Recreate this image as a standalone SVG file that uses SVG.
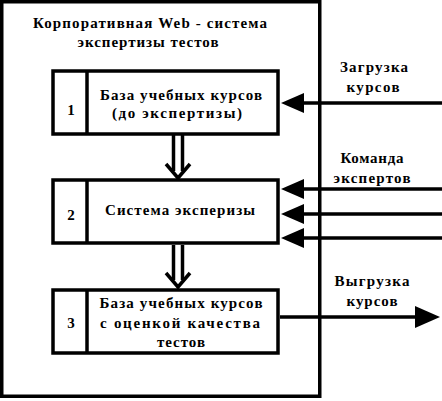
<svg xmlns="http://www.w3.org/2000/svg" width="442" height="401" viewBox="0 0 442 401">
<style>
.frame{fill:#fff;stroke:#000;stroke-width:3.5}
.box{fill:#fff;stroke:#000;stroke-width:3.5}
.ln{stroke:#000;stroke-width:3.5;fill:none}
.head{fill:#000;stroke:none}
text{font-family:"Liberation Serif","Times New Roman",serif;font-weight:bold;font-size:15px;fill:#000;text-anchor:middle}
</style>
<rect width="442" height="401" fill="#fff"/>
<g id="system">
<rect class="frame" x="1.75" y="1.75" width="318" height="394.5"/>
<text x="150" y="28" textLength="234" lengthAdjust="spacing">Корпоративная Web - система</text>
<text x="148" y="47" textLength="141" lengthAdjust="spacing">экспертизы тестов</text>
</g>
<g id="node1">
<rect class="box" x="53" y="71" width="225" height="63"/>
<line class="ln" x1="87" y1="71" x2="87" y2="134"/>
<text x="71" y="115">1</text>
<text x="181" y="100" textLength="162" lengthAdjust="spacing">База учебных курсов</text>
<text x="177" y="118" textLength="130" lengthAdjust="spacing">(до экспертизы)</text>
</g>
<g id="node2">
<rect class="box" x="53" y="180" width="225" height="63"/>
<line class="ln" x1="87" y1="180" x2="87" y2="243"/>
<text x="71" y="220">2</text>
<text x="180" y="215" textLength="150" lengthAdjust="spacing">Система эксперизы</text>
</g>
<g id="node3">
<rect class="box" x="53" y="290" width="225" height="63"/>
<line class="ln" x1="87" y1="290" x2="87" y2="353"/>
<text x="71" y="328">3</text>
<text x="181" y="308" textLength="163" lengthAdjust="spacing">База учебных курсов</text>
<text x="180" y="328" textLength="160" lengthAdjust="spacing">с оценкой качества</text>
<text x="181" y="347" textLength="48" lengthAdjust="spacing">тестов</text>
</g>
<g id="labels">
<text x="374" y="72" textLength="68" lengthAdjust="spacing">Загрузка</text>
<text x="373" y="92" textLength="53" lengthAdjust="spacing">курсов</text>
<text x="372" y="163" textLength="63" lengthAdjust="spacing">Команда</text>
<text x="372" y="183" textLength="77" lengthAdjust="spacing">экспертов</text>
<text x="372" y="286" textLength="75" lengthAdjust="spacing">Выгрузка</text>
<text x="372" y="306" textLength="51" lengthAdjust="spacing">курсов</text>
</g>
<g id="connectors">
<line class="ln" x1="173.5" y1="135" x2="173.5" y2="171"/>
<line class="ln" x1="182.5" y1="135" x2="182.5" y2="171"/>
<polyline class="ln" points="166,164 178,178 190,164"/>
<line class="ln" x1="173.5" y1="245" x2="173.5" y2="280"/>
<line class="ln" x1="182.5" y1="245" x2="182.5" y2="280"/>
<polyline class="ln" points="166,273 178,287 190,273"/>
<line class="ln" x1="442" y1="103" x2="300" y2="103"/>
<polygon class="head" points="281,103 304,93 304,113"/>
<line class="ln" x1="442" y1="189" x2="300" y2="189"/>
<polygon class="head" points="281,189 304,179 304,199"/>
<line class="ln" x1="442" y1="214" x2="300" y2="214"/>
<polygon class="head" points="281,214 304,204 304,224"/>
<line class="ln" x1="442" y1="238" x2="300" y2="238"/>
<polygon class="head" points="281,238 304,228 304,248"/>
<line class="ln" x1="280" y1="317" x2="418" y2="317"/>
<polygon class="head" points="440,317 415,306 415,328"/>
</g>
</svg>
